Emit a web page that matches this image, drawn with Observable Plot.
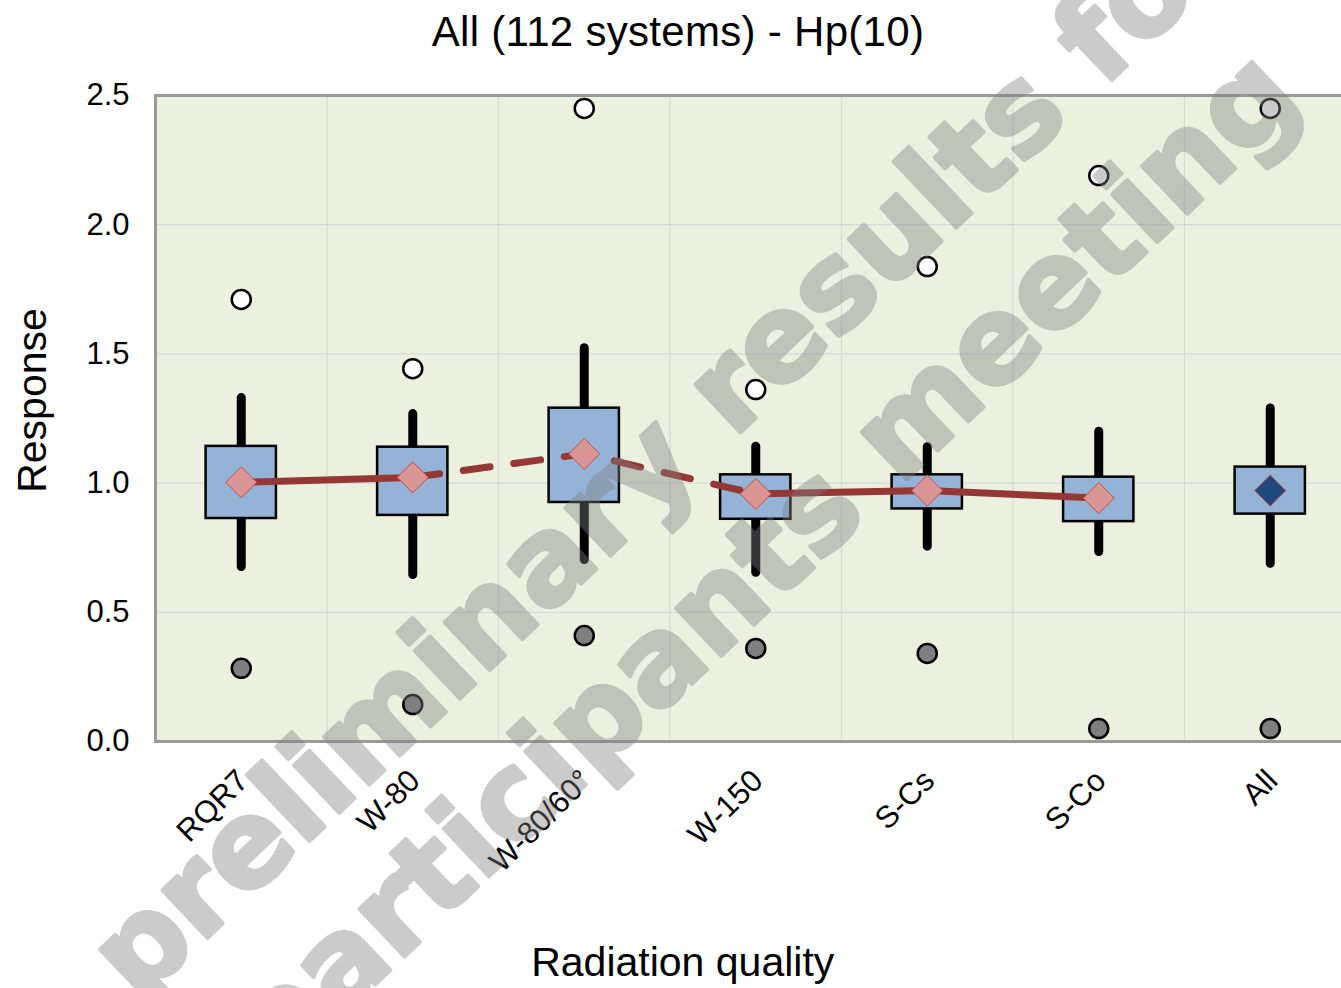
<!DOCTYPE html>
<html>
<head>
<meta charset="utf-8">
<script src="https://cdn.jsdelivr.net/npm/d3@7"></script>
<script src="https://cdn.jsdelivr.net/npm/@observablehq/plot@0.6"></script>
<style>
  html, body { margin: 0; padding: 0; background: #fff; overflow: hidden; width: 1341px; height: 988px; }
  #wrap { position: relative; width: 1341px; height: 988px; overflow: hidden; }
  #title { height: 74px; font-family: "Liberation Sans", Arial, sans-serif; font-size: 42px; line-height: 63px;
           text-align: center; padding-left: 15px; letter-spacing: 0.3px; color: #000; white-space: nowrap; }
  #chart { position: absolute; left: 0; top: 74px; width: 1360px; }
  #chart svg { max-width: none !important; }
  #wm { position: absolute; left: 0; top: 0; pointer-events: none; }
</style>
</head>
<body>
<div id="wrap">
  <div id="title">All (112 systems) - Hp(10)</div>
  <div id="chart"></div>
  <svg id="wm" width="1341" height="988">
    <g transform="translate(138,1004) rotate(-43.5)" opacity="0.4" fill="#808080" stroke="#808080"
       stroke-width="4" stroke-linejoin="round"
       font-family="DejaVu Sans" font-weight="bold" font-size="120">
      <text x="0" y="0">preliminary results for</text>
      <text x="49" y="149">participants meeting</text>
    </g>
  </svg>
</div>
<script>
// ---- data ----
const categories   = ["RQR7", "W-80", "W-80/60°", "W-150", "S-Cs", "S-Co", "All"];
const whiskerLow   = [0.675, 0.644, 0.702, 0.653, 0.754, 0.733, 0.688];
const quartile1    = [0.863, 0.875, 0.925, 0.860, 0.900, 0.851, 0.880];
const quartile3    = [1.142, 1.139, 1.290, 1.032, 1.032, 1.023, 1.062];
const whiskerHigh  = [1.329, 1.267, 1.522, 1.141, 1.139, 1.199, 1.289];
const means        = [1.003, 1.022, 1.113, 0.958, 0.971, 0.942, 0.971];
const outlierHigh  = [1.711, 1.443, 2.450, 1.362, 1.838, 2.190, 2.450];
const outlierLow   = [0.283, 0.143, 0.410, 0.360, 0.341, 0.050, 0.050];
const solidRuns    = [["RQR7", "W-80"], ["W-150", "S-Cs", "S-Co"]];
const dashedRuns   = [["W-80", "W-80/60°", "W-150"]];
const overallCategory = "All";
const yTicks       = [0, 0.5, 1.0, 1.5, 2.0, 2.5];
const yGrid        = [0.5, 1.0, 1.5, 2.0];
const yLabel = "Response";
const xLabel = "Radiation quality";

// ---- derived tables ----
const idx = c => categories.indexOf(c);
const rows = categories.map((c, i) => ({
  c, i,
  lo: whiskerLow[i], q1: quartile1[i], q3: quartile3[i], hi: whiskerHigh[i],
  mean: means[i], outHigh: outlierHigh[i], outLow: outlierLow[i]
}));
const runRows = runs => runs.flatMap((run, k) => run.map(c => ({run: k, i: idx(c), mean: means[idx(c)]})));
const boundaries = d3.range(categories.length - 1).map(i => i + 0.5);
const boxHalf = 0.205;

const chart = Plot.plot({
  width: 1360,
  height: 914,
  marginLeft: 155,
  marginRight: 4.5,
  marginTop: 21,
  marginBottom: 247,
  style: {fontFamily: "'Liberation Sans', Arial, sans-serif", color: "#000", background: "transparent",
          overflow: "visible", maxWidth: "none"},
  x: {domain: [-0.5, categories.length - 0.5]},
  y: {domain: [0, 2.5]},
  marks: [
    Plot.frame({fill: "#EBF1DE"}),
    Plot.ruleY(yGrid, {stroke: "#D9D9D9", strokeWidth: 1.3}),
    Plot.ruleX(boundaries, {stroke: "#D9D9D9", strokeWidth: 1.3}),
    Plot.ruleX(rows, {x: "i", y1: "lo", y2: "hi", stroke: "#000", strokeWidth: 9, strokeLinecap: "round"}),
    Plot.rect(rows, {x1: d => d.i - boxHalf, x2: d => d.i + boxHalf, y1: "q1", y2: "q3",
                     fill: "#95B3D7", stroke: "#000", strokeWidth: 2.5}),
    Plot.line(runRows(solidRuns), {x: "i", y: "mean", z: "run", stroke: "#953735", strokeWidth: 7}),
    Plot.line(runRows(dashedRuns), {x: "i", y: "mean", z: "run", stroke: "#953735", strokeWidth: 7,
                                    strokeDasharray: "27,24"}),
    Plot.dot(rows, {x: "i", y: "outHigh", r: 9.5, fill: "#fff", stroke: "#000", strokeWidth: 2.5}),
    Plot.dot(rows, {x: "i", y: "outLow", r: 9.5, fill: "#7F7F7F", stroke: "#000", strokeWidth: 2.5}),
    Plot.dot(rows.filter(d => d.c !== overallCategory), {x: "i", y: "mean", symbol: "diamond2", r: 14,
                     fill: "#D99694", stroke: "#C0504D", strokeWidth: 1}),
    Plot.dot(rows.filter(d => d.c === overallCategory), {x: "i", y: "mean", symbol: "diamond2", r: 14,
                     fill: "#1F497D", stroke: "#C0504D", strokeWidth: 1}),
    Plot.frame({stroke: "#9A9A9A", strokeWidth: 3}),
    Plot.axisY(yTicks, {tickSize: 0, tickPadding: 26, tickFormat: d3.format(".1f"), fontSize: 31, label: null}),
    Plot.axisX(d3.range(categories.length), {tickSize: 0, tickPadding: 34, tickFormat: i => categories[i],
                     tickRotate: -45, textAnchor: "end", lineAnchor: "middle", fontSize: 31, label: null, dx: 2}),
    Plot.text([xLabel], {frameAnchor: "bottom", dx: -73, dy: 221, fontSize: 41,
                         textAnchor: "middle", lineAnchor: "middle"}),
    Plot.text([yLabel], {frameAnchor: "left", dx: -123, dy: -18, rotate: -90, fontSize: 41,
                         textAnchor: "middle", lineAnchor: "middle"})
  ]
});
document.getElementById("chart").appendChild(chart);
</script>
</body>
</html>
